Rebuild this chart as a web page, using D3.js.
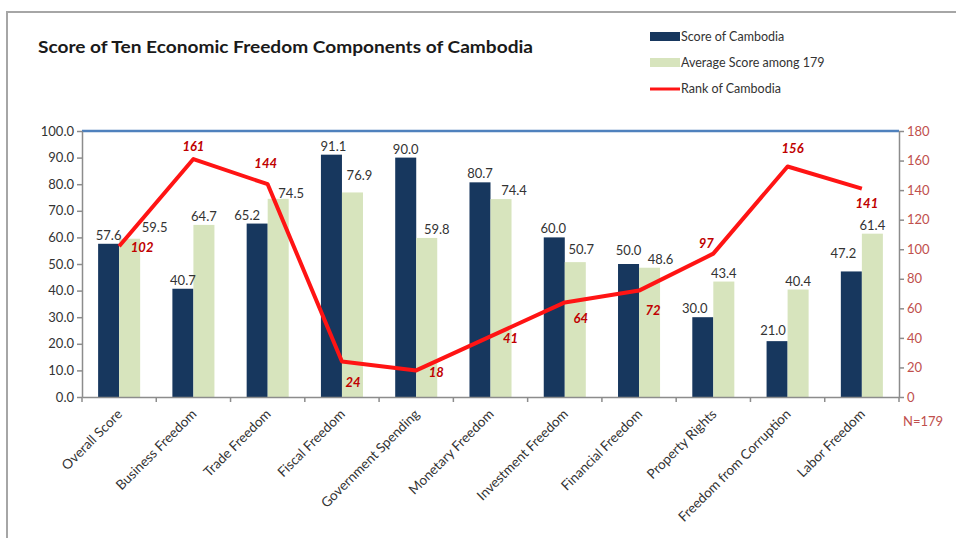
<!DOCTYPE html>
<html>
<head>
<meta charset="utf-8">
<script src="https://cdn.jsdelivr.net/npm/d3@7"></script>
<style>
  html, body { margin: 0; padding: 0; background: #fff; }
  svg { display: block; font-family: Lato, "Open Sans", sans-serif; }
</style>
</head>
<body>
<svg id="chart" width="956" height="538"></svg>
<script>
// Economic freedom components
const categories = [
  "Overall Score", "Business Freedom", "Trade Freedom", "Fiscal Freedom",
  "Government Spending", "Monetary Freedom", "Investment Freedom",
  "Financial Freedom", "Property Rights", "Freedom from Corruption", "Labor Freedom"
];
const cambodiaScore = [57.6, 40.7, 65.2, 91.1, 90.0, 80.7, 60.0, 50.0, 30.0, 21.0, 47.2];
const averageScore  = [59.5, 64.7, 74.5, 76.9, 59.8, 74.4, 50.7, 48.6, 43.4, 40.4, 61.4];
const cambodiaRank  = [102, 161, 144, 24, 18, 41, 64, 72, 97, 156, 141];

const scoreTicks = [0, 10, 20, 30, 40, 50, 60, 70, 80, 90, 100];
const rankTicks  = [0, 20, 40, 60, 80, 100, 120, 140, 160, 180];
const countries  = 179;

// label nudges (px) so labels avoid the line and neighbouring bars
const rankLabelDx = [23, 0, -2, 11, 20, 20, 16, 14, -7, 5, 5];
const rankLabelDy = [1, -13, -21, 21, 2, 2, 16, 20, -10, -18, 15];
const scoreLabelDx = [0, 0, -10, 2, 0, 0, -1, 0, -8, -4, -8];
const scoreLabelDy = [0, 0, 0, 0, 0, 0, 0, -5, 0, -2, -9];
const avgLabelDx = [25, 0, 13, 7, 10, 13, 6, 11, 0, 0, 0];
const avgLabelDy = [-3, 0, 3, -8, 0, 0, -4, 0, 0, 0, 0];

const svg = d3.select("#chart");

const plot = { left: 82, right: 899, top: 131, bottom: 397 };

// outer frame
svg.append("path")
  .attr("d", `M7,538 V12 H956`)
  .attr("fill", "none")
  .attr("stroke", "#a6a6a6")
  .attr("stroke-width", 2);

// title
svg.append("text")
  .attr("x", 38).attr("y", 53)
  .attr("font-size", 17).attr("font-weight", "bold")
  .attr("fill", "#1a1a1a")
  .attr("textLength", 495).attr("lengthAdjust", "spacingAndGlyphs")
  .text("Score of Ten Economic Freedom Components of Cambodia");

// scales
const x = d3.scaleBand().domain(categories).range([plot.left, plot.right]).padding(0);
const y = d3.scaleLinear().domain([0, 100]).range([plot.bottom, plot.top]);
const yR = d3.scaleLinear().domain([0, 180]).range([plot.bottom, plot.top]);
const barW = x.bandwidth() * 0.283;
const cx = d => x(d) + x.bandwidth() / 2;

// top border of the plot area
svg.append("line")
  .attr("x1", plot.left).attr("x2", plot.right)
  .attr("y1", plot.top).attr("y2", plot.top)
  .attr("stroke", "#4f81bd").attr("stroke-width", 2.5);

// bars
const g = svg.append("g");
g.selectAll("rect.score").data(categories).join("rect")
  .attr("class", "score")
  .attr("x", d => cx(d) - barW)
  .attr("y", (d, i) => y(cambodiaScore[i]))
  .attr("width", barW)
  .attr("height", (d, i) => y(0) - y(cambodiaScore[i]))
  .attr("fill", "#17375e");

g.selectAll("rect.avg").data(categories).join("rect")
  .attr("class", "avg")
  .attr("x", d => cx(d))
  .attr("y", (d, i) => y(averageScore[i]))
  .attr("width", barW)
  .attr("height", (d, i) => y(0) - y(averageScore[i]))
  .attr("fill", "#d7e4bd");

// left axis
const leftAxis = d3.axisLeft(y).tickValues(scoreTicks)
  .tickFormat(d3.format(".1f")).tickSize(5).tickSizeOuter(0);
const gl = svg.append("g").attr("transform", `translate(${plot.left},0)`).call(leftAxis);
gl.select(".domain").attr("stroke", "#8c8c8c").attr("stroke-width", 1.5);
gl.selectAll(".tick line").attr("stroke", "#8c8c8c").attr("stroke-width", 1.5);
gl.selectAll(".tick text").attr("font-size", 13).attr("fill", "#333")
  .attr("font-family", "Lato, sans-serif").attr("x", -8);

// right axis
const rightAxis = d3.axisRight(yR).tickValues(rankTicks).tickSize(5).tickSizeOuter(0);
const gr = svg.append("g").attr("transform", `translate(${plot.right},0)`).call(rightAxis);
gr.select(".domain").attr("stroke", "#8c8c8c").attr("stroke-width", 1.5);
gr.selectAll(".tick line").attr("stroke", "#8c8c8c").attr("stroke-width", 1.5);
gr.selectAll(".tick text").attr("font-size", 13).attr("fill", "#c0504d")
  .attr("font-family", "Lato, sans-serif").attr("x", 8);

// bottom axis
const bottomAxis = d3.axisBottom(x).tickSize(0).tickSizeOuter(0);
const gb = svg.append("g").attr("transform", `translate(0,${plot.bottom})`).call(bottomAxis);
gb.select(".domain").attr("stroke", "#8c8c8c").attr("stroke-width", 1.5);
// category separators
gb.selectAll("line.sep").data(categories.concat([null])).join("line")
  .attr("class", "sep")
  .attr("x1", (d, i) => plot.left + i * x.bandwidth())
  .attr("x2", (d, i) => plot.left + i * x.bandwidth())
  .attr("y1", 0).attr("y2", 5)
  .attr("stroke", "#8c8c8c").attr("stroke-width", 1.5);
gb.selectAll(".tick text")
  .attr("font-size", 13.5).attr("fill", "#333")
  .attr("font-family", "Lato, sans-serif")
  .attr("text-anchor", "end")
  .attr("dy", 0).attr("y", 0)
  .attr("transform", "translate(4,18) rotate(-45)");

// rank line
const line = d3.line().x((d, i) => cx(categories[i])).y(d => yR(d));
svg.append("path")
  .datum(cambodiaRank)
  .attr("d", line)
  .attr("fill", "none")
  .attr("stroke", "#ff1414")
  .attr("stroke-width", 4)
  .attr("stroke-linejoin", "round");

// bar value labels
svg.append("g").selectAll("text").data(categories).join("text")
  .attr("x", (d, i) => cx(d) - barW / 2 + scoreLabelDx[i])
  .attr("y", (d, i) => y(cambodiaScore[i]) - 4 + scoreLabelDy[i])
  .attr("text-anchor", "middle")
  .attr("font-size", 13).attr("fill", "#333")
  .text((d, i) => cambodiaScore[i].toFixed(1));

svg.append("g").selectAll("text").data(categories).join("text")
  .attr("x", (d, i) => cx(d) + barW / 2 + avgLabelDx[i])
  .attr("y", (d, i) => y(averageScore[i]) - 4 + avgLabelDy[i])
  .attr("text-anchor", "middle")
  .attr("font-size", 13).attr("fill", "#333")
  .text((d, i) => averageScore[i].toFixed(1));

// rank labels
svg.append("g").selectAll("text").data(categories).join("text")
  .attr("x", (d, i) => cx(d) + rankLabelDx[i])
  .attr("y", (d, i) => yR(cambodiaRank[i]) + rankLabelDy[i])
  .attr("dy", "0.35em")
  .attr("text-anchor", "middle")
  .attr("font-size", 13).attr("font-weight", "bold").attr("font-style", "italic")
  .attr("fill", "#c00000")
  .text((d, i) => cambodiaRank[i]);

// N note
svg.append("text")
  .attr("x", 903).attr("y", 426)
  .attr("font-size", 13).attr("fill", "#c0504d")
  .text(`N=${countries}`);

// legend
const legend = svg.append("g").attr("font-size", 12.5).attr("fill", "#333");
legend.append("rect").attr("x", 650).attr("y", 32).attr("width", 30).attr("height", 9).attr("fill", "#17375e");
legend.append("text").attr("x", 681).attr("y", 37).attr("dy", "0.35em").attr("fill", "#333").text("Score of Cambodia");
legend.append("rect").attr("x", 650).attr("y", 58).attr("width", 30).attr("height", 9).attr("fill", "#d7e4bd");
legend.append("text").attr("x", 681).attr("y", 63).attr("dy", "0.35em").attr("fill", "#333").text(`Average Score among ${countries}`);
legend.append("line").attr("x1", 650).attr("x2", 680).attr("y1", 89).attr("y2", 89)
  .attr("stroke", "#ff1414").attr("stroke-width", 3);
legend.append("text").attr("x", 681).attr("y", 89).attr("dy", "0.35em").attr("fill", "#333").text("Rank of Cambodia");
</script>
</body>
</html>
